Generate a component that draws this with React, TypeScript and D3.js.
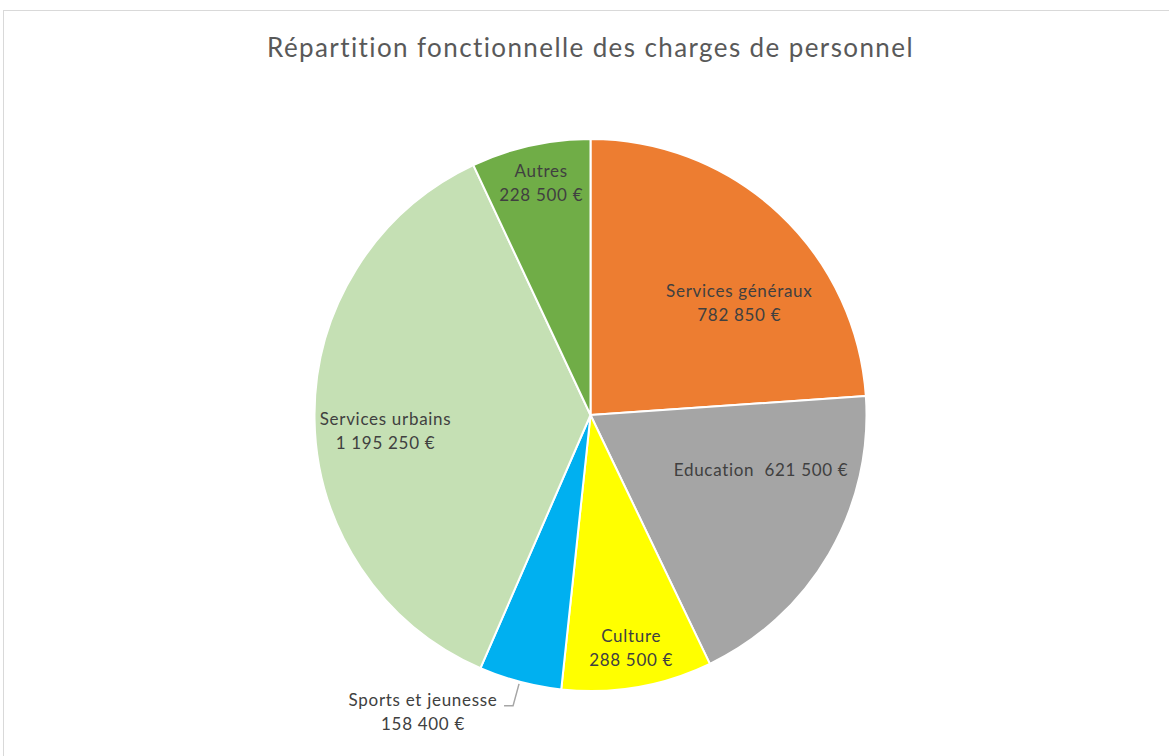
import React from "react";
import * as d3 from "d3";

const categories = ["Services généraux", "Education", "Culture", "Sports et jeunesse", "Services urbains", "Autres"];
const values = [782850, 621500, 288500, 158400, 1195250, 228500];
const colors = ["#ED7D31", "#A5A5A5", "#FFFF00", "#00B0F0", "#C5E0B4", "#70AD47"];
const valueLabels = ["782 850 €", "621 500 €", "288 500 €", "158 400 €", "1 195 250 €", "228 500 €"];
// label placement: angle (deg, clockwise from top), radius fraction, layout mode
const labelAngles = [53, 108, 170.1, 0, 265.5, 348.0];
const labelRadii = [0.675, 0.65, 0.857, 0, 0.745, 0.859];
const labelInline = [false, true, false, false, false, false];

const W = 1169, H = 756;
const cx = 590.5, cy = 415, R = 276;

export default function App() {
  const pie = d3.pie<number>().sort(null).value((d) => d)(values);
  const arc = d3.arc<d3.PieArcDatum<number>>().innerRadius(0).outerRadius(R);
  const font = "Lato, 'Open Sans', sans-serif";
  const txt = "#404040";
  const fs = 17;
  const ls = 0.7;

  const sp = pie[3];
  const mid = (sp.startAngle + sp.endAngle) / 2;
  const ex = cx + Math.sin(mid) * R;
  const ey = cy - Math.cos(mid) * R;

  return (
    <svg width={W} height={H} style={{ position: "absolute", left: 0, top: 0 }}>
      <rect x={0} y={0} width={W} height={H} fill="#fff" />
      <rect x={3.5} y={10.5} width={W + 10} height={H + 10} fill="#fff" stroke="#D9D9D9" strokeWidth={1} />
      <text x={cx} y={57} textAnchor="middle" fontFamily={font} fontSize={26} letterSpacing={1.4} fill="#595959">
        Répartition fonctionnelle des charges de personnel
      </text>
      <g transform={`translate(${cx},${cy})`}>
        {pie.map((p, i) => (
          <path key={i} d={arc(p) || ""} fill={colors[i]} stroke="#fff" strokeWidth={2} strokeLinejoin="round" />
        ))}
      </g>
      {pie.map((p, i) => {
        if (i === 3) return null;
        const a = (labelAngles[i] * Math.PI) / 180;
        const r = labelRadii[i] * R;
        const x = cx + Math.sin(a) * r;
        const y = cy - Math.cos(a) * r;
        if (labelInline[i]) {
          return (
            <text key={i} x={x} y={y + 6} textAnchor="middle" fontFamily={font} fontSize={fs} letterSpacing={ls} fill={txt} xmlSpace="preserve">
              {categories[i] + "  " + valueLabels[i]}
            </text>
          );
        }
        return (
          <text key={i} x={x} y={y - 6} textAnchor="middle" fontFamily={font} fontSize={fs} letterSpacing={ls} fill={txt}>
            <tspan x={x} dy={0}>{categories[i]}</tspan>
            <tspan x={x} dy={24}>{valueLabels[i]}</tspan>
          </text>
        );
      })}
      <polyline
        points={`${ex - 1},${ey + 2} ${ex - 7},${ey + 24} ${ex - 16},${ey + 24}`}
        fill="none"
        stroke="#A6A6A6"
        strokeWidth={1.5}
      />
      <text x={ex - 97} y={ey + 24} textAnchor="middle" fontFamily={font} fontSize={fs} letterSpacing={ls} fill={txt}>
        <tspan x={ex - 97} dy={0}>{categories[3]}</tspan>
        <tspan x={ex - 97} dy={24}>{valueLabels[3]}</tspan>
      </text>
    </svg>
  );
}
